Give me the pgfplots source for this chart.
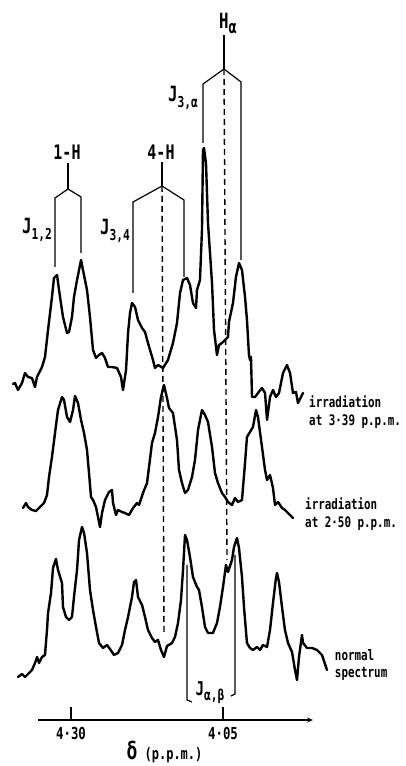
\documentclass[border=0pt]{standalone}
\usepackage{fontspec}
\setmainfont[FakeStretch=0.75]{DejaVu Sans Mono}
\usepackage{pgfplots}
\pgfplotsset{compat=1.18}
\usetikzlibrary{arrows.meta}
\newcommand{\lb}[1]{\fontsize{#1}{#1}\selectfont}
\begin{document}
\bfseries
\begin{tikzpicture}
\useasboundingbox (-38pt,-46pt) rectangle (367pt,720pt);
\begin{axis}[
  at={(0pt,0pt)}, anchor=south west,
  scale only axis, width=275pt, height=720pt,
  x dir=reverse, xmin=3.9020, xmax=4.3543, ymin=0, ymax=720,
  enlargelimits=false, clip=false,
  axis x line=bottom, axis y line=none,
  axis line style={line width=1.5pt, {Stealth[length=6pt,width=5pt]}-},
  xtick={4.30,4.05}, xticklabels={4·30,4·05},
  tick align=inside, major tick length=13pt,
  tick style={line width=1.3pt, black},
  xticklabel style={font=\lb{16.5}\bfseries, yshift=-4pt},
  xlabel={{\lb{24}δ} (p.p.m.)},
  xlabel style={font=\lb{16}\bfseries, xshift=-11pt, yshift=6pt},
  trace/.style={line width=2.4pt, black, line join=round, line cap=round},
  brk/.style={line width=1.2pt, black},
  dsh/.style={line width=1.4pt, black, dash pattern=on 6pt off 4pt},
]
% irradiation at 3.39 ppm
\addplot[trace] coordinates {
(4.3954,336) (4.3921,337) (4.3872,330) (4.3806,337) (4.3757,347) (4.3707,343)
(4.3642,342) (4.3592,333) (4.3559,343) (4.3477,353) (4.3428,363) (4.3378,390)
(4.3313,423) (4.3280,442) (4.3230,445) (4.3197,430) (4.3132,403) (4.3066,387)
(4.3033,388) (4.2984,403) (4.2951,423) (4.2901,440) (4.2835,460) (4.2803,450)
(4.2737,430) (4.2688,403) (4.2638,370) (4.2589,362) (4.2539,365) (4.2490,367)
(4.2441,362) (4.2392,353) (4.2326,353) (4.2243,352) (4.2178,343) (4.2145,330)
(4.2095,350) (4.2062,387) (4.2030,407) (4.1997,417) (4.1947,413) (4.1898,400)
(4.1832,392) (4.1783,388) (4.1734,377) (4.1652,360) (4.1619,352) (4.1569,355)
(4.1487,352) (4.1405,360) (4.1323,377) (4.1257,397) (4.1207,427) (4.1158,440)
(4.1092,442) (4.1043,435) (4.0994,417) (4.0944,412) (4.0928,430) (4.0879,440)
(4.0846,490) (4.0829,570) (4.0813,572) (4.0780,557) (4.0747,497) (4.0681,437)
(4.0648,390) (4.0599,365) (4.0566,375) (4.0517,377) (4.0467,380) (4.0418,383)
(4.0402,398) (4.0336,417) (4.0287,443) (4.0237,457) (4.0188,450) (4.0138,423)
(4.0106,400) (4.0073,365) (4.0056,360) (4.0040,363) (4.0023,323) (3.9974,323)
(3.9925,327) (3.9859,332) (3.9809,327) (3.9776,300) (3.9727,323) (3.9678,330)
(3.9629,323) (3.9579,327) (3.9513,347) (3.9448,355) (3.9398,347) (3.9349,327)
(3.9300,328) (3.9267,317) (3.9184,327)
};
% irradiation at 2.50 ppm
\addplot[trace] coordinates {
(4.3790,212) (4.3740,217) (4.3707,213) (4.3642,210) (4.3576,209) (4.3510,213)
(4.3444,217) (4.3395,225) (4.3362,243) (4.3313,263) (4.3263,287) (4.3214,310)
(4.3148,323) (4.3115,320) (4.3066,303) (4.3016,298) (4.2967,310) (4.2934,324)
(4.2885,317) (4.2835,300) (4.2786,287) (4.2737,270) (4.2704,247) (4.2671,223)
(4.2638,220) (4.2589,213) (4.2556,203) (4.2523,193) (4.2490,207) (4.2441,220)
(4.2375,228) (4.2326,230) (4.2309,217) (4.2260,205) (4.2227,210) (4.2161,208)
(4.2112,207) (4.2046,205) (4.1980,212) (4.1914,217) (4.1882,215) (4.1816,227)
(4.1750,237) (4.1717,253) (4.1668,277) (4.1619,287) (4.1569,303) (4.1520,323)
(4.1471,335) (4.1421,322) (4.1388,312) (4.1323,307) (4.1257,280) (4.1224,250)
(4.1175,237) (4.1125,227) (4.1076,230) (4.1010,243) (4.0961,260) (4.0911,290)
(4.0846,310) (4.0796,305) (4.0747,298) (4.0681,273) (4.0632,247) (4.0583,237)
(4.0517,227) (4.0467,223) (4.0418,218) (4.0352,215) (4.0303,222) (4.0254,218)
(4.0188,220) (4.0138,257) (4.0106,283) (4.0056,288) (4.0007,293) (3.9957,310)
(3.9925,303) (3.9859,273) (3.9809,250) (3.9776,240) (3.9727,245) (3.9678,232)
(3.9645,215) (3.9596,218) (3.9530,212) (3.9481,210) (3.9431,207) (3.9349,202)
};
% normal spectrum
\addplot[trace] coordinates {
(4.3872,43) (4.3806,46) (4.3757,43) (4.3707,46) (4.3642,50) (4.3592,57)
(4.3559,63) (4.3526,57) (4.3477,63) (4.3428,65) (4.3395,90) (4.3378,107)
(4.3329,127) (4.3296,152) (4.3247,161) (4.3214,150) (4.3148,137) (4.3132,113)
(4.3082,103) (4.3033,100) (4.2984,103) (4.2951,123) (4.2901,150) (4.2868,180)
(4.2819,193) (4.2786,187) (4.2737,167) (4.2688,130) (4.2638,110) (4.2589,93)
(4.2539,77) (4.2474,72) (4.2408,75) (4.2359,71) (4.2293,65) (4.2227,67)
(4.2161,75) (4.2112,90) (4.2062,103) (4.1997,123) (4.1964,138) (4.1931,140)
(4.1898,123) (4.1832,115) (4.1783,103) (4.1734,90) (4.1668,82) (4.1619,78)
(4.1569,80) (4.1520,70) (4.1471,63) (4.1421,74) (4.1339,77) (4.1290,83)
(4.1240,97) (4.1191,120) (4.1158,150) (4.1125,185) (4.1092,180) (4.1043,163)
(4.0994,143) (4.0928,133) (4.0895,130) (4.0846,113) (4.0796,93) (4.0747,87)
(4.0665,87) (4.0599,97) (4.0550,113) (4.0500,133) (4.0451,155) (4.0418,148)
(4.0352,160) (4.0319,173) (4.0270,182) (4.0237,172) (4.0188,143) (4.0155,113)
(4.0106,77) (4.0056,72) (4.0007,70) (3.9941,73) (3.9892,70) (3.9842,75)
(3.9776,73) (3.9727,90) (3.9678,117) (3.9629,142) (3.9612,147) (3.9579,138)
(3.9530,113) (3.9481,90) (3.9431,77) (3.9365,68) (3.9316,50) (3.9283,40)
(3.9250,63) (3.9201,85) (3.9184,77) (3.9119,72) (3.9036,72) (3.8954,70)
(3.8872,65) (3.8790,50)
};
% 1-H bracket
\addplot[brk] coordinates {(4.3263,453) (4.3263,522) (4.3049,531) (4.2835,523) (4.2835,467)};
\addplot[brk] coordinates {(4.3049,531) (4.3049,557)};
% 4-H bracket
\addplot[brk] coordinates {(4.1980,427) (4.1980,518) (4.1503,534) (4.1142,520) (4.1142,443)};
\addplot[brk] coordinates {(4.1503,534) (4.1503,558)};
\addplot[dsh] coordinates {(4.1503,534) (4.1471,88)};
% H alpha bracket
\addplot[brk] coordinates {(4.0829,577) (4.0829,636) (4.0484,651) (4.0204,638) (4.0204,460)};
\addplot[brk] coordinates {(4.0484,651) (4.0484,685)};
\addplot[dsh] coordinates {(4.0484,651) (4.0434,160)};
% J alpha,beta
\addplot[brk] coordinates {(4.1092,155) (4.1092,20) (4.1010,18)};
\addplot[brk] coordinates {(4.0303,165) (4.0303,26) (4.0369,24)};
% labels
\node[font=\lb{20}\bfseries] at (axis cs:4.3066,568) {1-H};
\node[font=\lb{20}\bfseries] at (axis cs:4.1520,568) {4-H};
\node[font=\lb{21}\bfseries] at (axis cs:4.0418,697) {H\raisebox{-5pt}{\lb{18}α}};
\node[font=\lb{21}\bfseries] at (axis cs:4.3559,490) {J\raisebox{-6pt}{\lb{15}1,2}};
\node[font=\lb{21}\bfseries] at (axis cs:4.2276,489) {J\raisebox{-6pt}{\lb{15}3,4}};
\node[font=\lb{21}\bfseries] at (axis cs:4.1158,622) {J\raisebox{-6pt}{\lb{15}3,α}};
\node[font=\lb{19}\bfseries] at (axis cs:4.0714,27) {J\raisebox{-5pt}{\lb{15}α,β}};
\node[anchor=west, align=left, font=\lb{14.5}\bfseries, inner sep=0pt] at (axis cs:3.9085,308) {irradiation\\[4pt]at 3·39 p.p.m.};
\node[anchor=west, align=left, font=\lb{14.5}\bfseries, inner sep=0pt] at (axis cs:3.9151,206) {irradiation\\[3pt]at 2·50 p.p.m.};
\node[anchor=west, align=left, font=\lb{14.5}\bfseries, inner sep=0pt] at (axis cs:3.8662,55) {normal\\[3pt]spectrum};
\end{axis}
\end{tikzpicture}
\end{document}
